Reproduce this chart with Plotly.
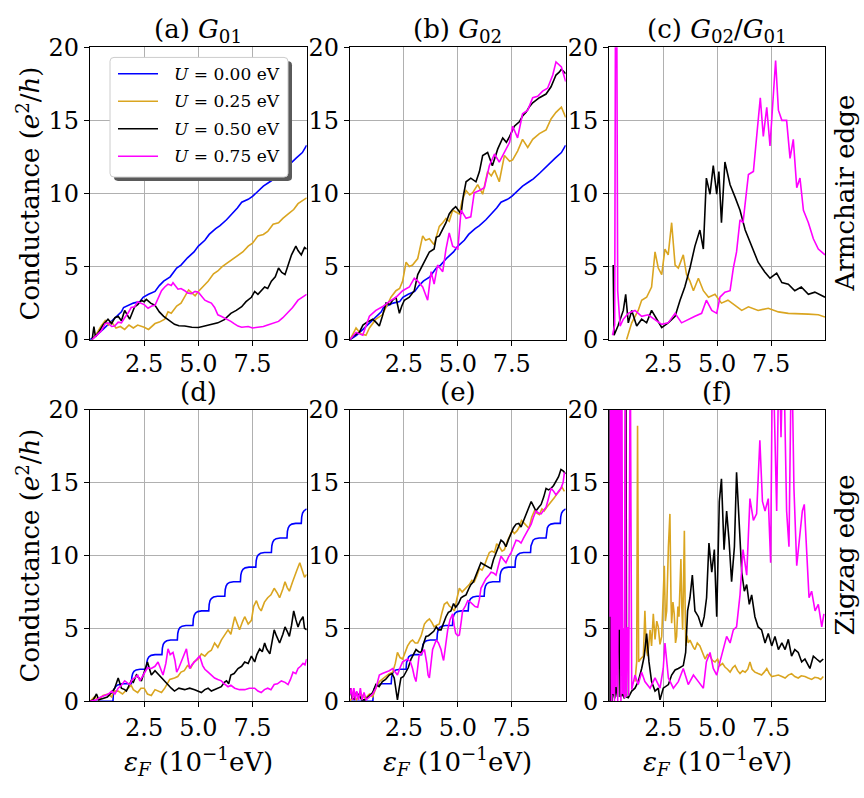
import plotly.graph_objects as go

W, H = 864, 798
FONT = "DejaVu Serif"

# ---------------- data ----------------
legend_labels = ["<i>U</i> = 0.00 eV", "<i>U</i> = 0.25 eV", "<i>U</i> = 0.50 eV", "<i>U</i> = 0.75 eV"]
colors = ["#0000ff", "#daa520", "#000000", "#ff00ff"]
panel_titles = ["(a) <i>G</i><sub>01</sub>", "(b) <i>G</i><sub>02</sub>", "(c) <i>G</i><sub>02</sub>/<i>G</i><sub>01</sub>",
                "(d)", "(e)", "(f)"]
row_labels = ["Armchair edge", "Zigzag edge"]
x_tickvals = [2.5, 5.0, 7.5]
x_ticktext = ["2.5", "5.0", "7.5"]
y_tickvals = [0, 5, 10, 15, 20]

# Armchair, U=0 (G01 = G02)
arm_blue_x = [0.0, 0.3, 0.6, 0.9, 1.2, 1.45, 1.55, 1.8, 2.0, 2.3, 2.45, 2.7, 3.0, 3.2, 3.4, 3.7, 4.0, 4.2, 4.5, 4.8,
              5.0, 5.3, 5.5, 5.8, 6.0, 6.3, 6.5, 6.8, 7.0, 7.3, 7.5, 7.8, 8.0, 8.3, 8.5, 8.8, 9.0, 9.3, 9.5, 9.8, 10.0]
arm_blue_y = [0.0, 0.3, 0.7, 1.1, 1.5, 1.9, 2.2, 2.35, 2.5, 2.6, 2.9, 3.1, 3.3, 3.7, 4.0, 4.3, 4.9, 5.1, 5.6, 6.0,
              6.4, 6.8, 7.2, 7.6, 7.8, 8.2, 8.5, 9.0, 9.4, 9.6, 9.8, 10.2, 10.5, 10.8, 11.0, 11.4, 11.7, 12.1, 12.4, 12.8, 13.3]

a_gold_x = [0.1, 0.3, 0.5, 0.7, 0.85, 1.0, 1.2, 1.4, 1.6, 1.8, 2.0, 2.2, 2.5, 2.7, 3.0, 3.2, 3.45, 3.6, 3.75, 4.0,
            4.2, 4.4, 4.55, 4.7, 4.85, 5.0, 5.2, 5.45, 5.7, 5.9, 6.1, 6.37, 6.6, 6.83, 7.05, 7.3, 7.5, 7.75, 8.0, 8.2,
            8.45, 8.7, 8.9, 9.15, 9.4, 9.6, 9.8, 10.0]
a_gold_y = [0.0, 0.4, 0.9, 1.3, 1.0, 1.2, 0.8, 0.9, 0.7, 1.0, 0.8, 1.0, 0.85, 0.7, 1.1, 1.2, 1.4, 1.9, 1.8, 2.3,
            2.5, 3.0, 3.4, 3.2, 3.0, 3.3, 3.6, 4.0, 4.5, 4.7, 5.0, 5.3, 5.5, 5.8, 6.0, 6.4, 6.6, 7.1, 7.2, 7.4,
            7.9, 8.0, 8.3, 8.6, 8.9, 9.3, 9.5, 9.7]

a_black_x = [0.1, 0.18, 0.25, 0.4, 0.6, 0.83, 1.0, 1.15, 1.3, 1.45, 1.6, 1.83, 2.06, 2.2, 2.37, 2.5, 2.6, 2.8, 3.0, 3.2,
             3.4, 3.6, 3.9, 4.1, 4.37, 4.7, 5.0, 5.2, 5.45, 5.7, 5.9, 6.2, 6.5, 6.75, 7.0, 7.2, 7.45, 7.6, 7.75, 8.06,
             8.2, 8.37, 8.55, 8.7, 8.85, 9.0, 9.15, 9.3, 9.5, 9.6, 9.75, 9.9, 10.0]
a_black_y = [0.0, 0.9, 0.2, 0.5, 1.0, 1.4, 1.1, 1.5, 1.6, 1.3, 2.0, 1.4, 2.25, 2.4, 2.7, 2.6, 2.75, 2.5, 2.35, 1.9,
             1.6, 1.4, 1.05, 0.95, 0.93, 0.85, 0.83, 0.9, 1.0, 1.05, 1.15, 1.37, 1.8, 2.0, 2.25, 2.6, 2.9, 3.3, 3.1, 3.6,
             3.5, 4.0, 4.3, 4.9, 4.6, 4.45, 5.1, 5.8, 6.4, 6.1, 5.8, 6.3, 6.2]

a_mag_x = [0.1, 0.3, 0.52, 0.7, 0.83, 1.0, 1.14, 1.3, 1.45, 1.6, 1.75, 1.9, 2.06, 2.2, 2.37, 2.5, 2.68, 2.85, 3.0, 3.15,
           3.3, 3.45, 3.6, 3.75, 3.83, 4.06, 4.2, 4.37, 4.5, 4.68, 4.85, 5.0, 5.15, 5.3, 5.45, 5.6, 5.75, 5.9, 6.05, 6.2,
           6.35, 6.5, 6.65, 6.83, 7.0, 7.3, 7.5, 7.75, 8.0, 8.2, 8.45, 8.7, 8.9, 9.15, 9.35, 9.6, 9.8, 10.0]
a_mag_y = [0.0, 0.3, 0.6, 1.1, 1.15, 0.9, 0.93, 1.2, 1.15, 1.5, 1.8, 2.2, 2.25, 2.6, 2.5, 2.4, 2.15, 2.3, 2.35, 2.8,
           3.35, 3.6, 3.8, 3.7, 3.9, 3.45, 3.5, 3.35, 3.2, 3.15, 3.3, 3.25, 3.0, 2.7, 2.6, 2.5, 2.2, 1.7, 1.6, 1.5,
           1.35, 1.25, 1.1, 0.93, 0.85, 0.9, 0.8, 0.83, 0.9, 1.0, 1.1, 1.25, 1.5, 1.9, 2.2, 2.7, 2.9, 3.1]

b_gold_x = [0.0, 0.28, 0.5, 0.74, 0.9, 1.2, 1.5, 1.7, 1.9, 2.13, 2.3, 2.44, 2.6, 2.75, 2.9, 3.14, 3.37, 3.5, 3.68, 3.9,
            4.14, 4.3, 4.45, 4.6, 4.76, 5.07, 5.2, 5.38, 5.55, 5.69, 5.92, 6.15, 6.38, 6.55, 6.7, 6.92, 7.16, 7.4, 7.54,
            7.77, 8.0, 8.24, 8.47, 8.78, 9.09, 9.32, 9.55, 9.8, 10.0]
b_gold_y = [0.0, 0.8, 0.4, 0.3, 0.8, 1.4, 1.7, 2.3, 2.9, 3.35, 3.5, 4.0, 5.3, 5.0, 5.1, 5.55, 7.1, 6.8, 6.9, 6.5,
            7.75, 8.0, 8.3, 8.1, 8.85, 8.6, 9.5, 10.2, 9.9, 10.05, 10.6, 9.95, 11.5, 11.2, 11.6, 10.8, 12.6, 12.2, 12.3,
            12.9, 13.7, 13.15, 13.7, 14.1, 14.35, 15.1, 15.55, 15.9, 15.2]

b_black_x = [0.0, 0.2, 0.43, 0.6, 0.74, 1.05, 1.2, 1.36, 1.5, 1.67, 1.85, 1.98, 2.13, 2.29, 2.4, 2.52, 2.75, 2.98, 3.14,
             3.37, 3.5, 3.68, 3.9, 4.0, 4.14, 4.3, 4.45, 4.6, 4.75, 4.9, 5.15, 5.25, 5.38, 5.6, 5.84, 6.0, 6.15, 6.38,
             6.6, 6.85, 7.08, 7.25, 7.4, 7.62, 7.85, 8.0, 8.16, 8.3, 8.47, 8.78, 9.09, 9.32, 9.55, 9.7, 9.8, 10.0]
b_black_y = [0.0, 0.3, 0.5, 1.0, 1.15, 1.4, 1.2, 0.93, 1.6, 2.5, 2.4, 2.7, 2.9, 1.8, 2.3, 2.7, 2.9, 3.35, 4.45,
             5.1, 5.5, 6.0, 6.2, 7.0, 7.1, 7.6, 8.0, 8.6, 8.9, 9.1, 8.6, 9.8, 10.8, 11.05, 10.8, 11.5, 12.6, 12.8,
             11.9, 13.05, 13.8, 13.5, 13.9, 14.6, 14.9, 15.3, 15.55, 15.9, 16.2, 16.55, 16.8, 17.3, 18.1, 18.3, 18.5, 18.2]

b_mag_x = [0.0, 0.28, 0.59, 0.9, 1.2, 1.5, 1.82, 2.13, 2.44, 2.75, 2.98, 3.14, 3.37, 3.6, 3.76, 3.9, 4.06, 4.3, 4.45,
           4.6, 4.76, 5.0, 5.15, 5.38, 5.6, 5.76, 6.0, 6.23, 6.46, 6.7, 6.92, 7.16, 7.4, 7.54, 7.77, 8.0, 8.24, 8.47,
           8.7, 8.93, 9.16, 9.4, 9.55, 9.8, 10.0]
b_mag_y = [0.0, 0.5, 0.3, 1.6, 2.0, 2.25, 2.6, 2.9, 3.35, 3.6, 4.2, 4.0, 3.6, 2.7, 4.65, 3.8, 5.1, 4.65, 6.2,
           7.3, 6.4, 6.2, 8.85, 8.3, 8.4, 10.05, 10.2, 10.4, 11.9, 12.7, 12.15, 12.8, 13.5, 14.6, 13.8, 15.45, 15.7, 16.55,
           16.65, 17.0, 17.2, 18.1, 19.0, 18.65, 17.65]

c_gold_x = [0.8, 1.04, 1.34, 1.5, 1.73, 1.96, 2.12, 2.27, 2.43, 2.58, 2.73, 2.89, 3.05, 3.2, 3.43, 3.58, 3.74, 3.9, 4.13,
            4.36, 4.6, 4.9, 5.2, 5.5, 5.83, 6.14, 6.45, 6.9, 7.37, 7.84, 8.3, 8.76, 9.23, 9.69, 10.0]
c_gold_y = [0.0, 1.15, 2.0, 2.7, 2.9, 3.6, 6.0, 4.9, 4.45, 6.2, 5.8, 8.0, 5.1, 4.9, 5.8, 4.45, 4.0, 3.35, 4.2,
            3.35, 2.9, 3.1, 2.5, 2.7, 2.35, 2.0, 2.25, 2.0, 2.15, 1.9, 1.8, 1.8, 1.75, 1.7, 1.55]

c_black_x = [0.18, 0.22, 0.4, 0.65, 0.76, 0.88, 1.04, 1.27, 1.5, 1.73, 1.96, 2.19, 2.43, 2.73, 3.05, 3.28, 3.5, 3.74,
             3.97, 4.2, 4.36, 4.5, 4.67, 4.82, 4.98, 5.08, 5.2, 5.36, 5.6, 5.83, 6.06, 6.3, 6.6, 6.9, 7.2, 7.45, 7.76,
             8.0, 8.3, 8.6, 8.9, 9.23, 9.53, 10.0]
c_black_y = [5.1, 0.3, 0.93, 2.0, 3.1, 1.15, 2.0, 0.93, 1.4, 1.15, 2.0, 1.4, 0.83, 1.15, 1.6, 2.7, 3.6, 4.9,
             6.4, 7.5, 6.2, 11.05, 9.95, 11.9, 9.95, 11.5, 8.0, 12.15, 10.6, 9.75, 8.85, 7.5, 6.4, 5.3, 4.65, 4.2, 4.55,
             3.9, 3.8, 3.35, 3.6, 3.1, 3.25, 2.9]

c_mag_x = [0.15, 0.25, 0.29, 0.34, 0.39, 0.5, 0.65, 0.88, 1.19, 1.5, 1.8, 2.1, 2.43, 2.73, 3.05, 3.35, 3.66, 3.97, 4.28,
           4.5, 4.75, 4.98, 5.13, 5.36, 5.6, 5.75, 5.9, 6.06, 6.2, 6.45, 6.68, 6.83, 7.0, 7.14, 7.3, 7.45, 7.6, 7.71,
           7.84, 8.0, 8.22, 8.38, 8.53, 8.69, 8.84, 9.0, 9.23, 9.46, 9.69, 10.0]
c_mag_y = [0.3, 1.0, 25.0, 25.0, 3.35, 0.93, 1.4, 1.8, 2.0, 1.6, 1.7, 1.4, 1.05, 1.15, 1.8, 1.15, 1.4, 1.6, 1.8,
           2.7, 2.0, 1.8, 2.9, 3.25, 3.35, 4.9, 6.0, 8.2, 8.0, 11.3, 11.5, 14.1, 16.55, 13.9, 15.9, 13.25, 16.3, 19.1,
           15.7, 15.0, 15.0, 12.4, 13.7, 10.4, 11.05, 8.85, 8.0, 6.9, 6.2, 5.8]

# Zigzag, U=0 (G01 = G02): quantised staircase
zig_blue_x = [0.0, 1.06, 1.08, 1.12, 1.18, 1.28, 1.46,
              1.91, 1.93, 1.97, 2.03, 2.13, 2.31,
              2.6, 2.62, 2.66, 2.72, 2.82, 3.0,
              3.32, 3.34, 3.38, 3.44, 3.54, 3.72,
              4.03, 4.05, 4.09, 4.15, 4.25, 4.43,
              4.75, 4.77, 4.81, 4.87, 4.97, 5.15,
              5.48, 5.5, 5.54, 5.6, 5.7, 5.88,
              6.22, 6.24, 6.28, 6.34, 6.44, 6.62,
              6.94, 6.96, 7.0, 7.06, 7.16, 7.34,
              7.65, 7.67, 7.71, 7.77, 7.87, 8.05,
              8.37, 8.39, 8.43, 8.49, 8.59, 8.77,
              9.09, 9.11, 9.15, 9.21, 9.31, 9.49,
              9.75, 9.77, 9.81, 9.87, 9.97, 10.0]
zig_blue_y = [0.0, 0.0, 0.55, 0.85, 1.0, 1.12, 1.2,
              1.2, 1.65, 1.9, 2.05, 2.15, 2.2,
              2.2, 2.65, 2.9, 3.05, 3.15, 3.2,
              3.2, 3.65, 3.9, 4.05, 4.15, 4.2,
              4.2, 4.65, 4.9, 5.05, 5.15, 5.2,
              5.2, 5.65, 5.9, 6.05, 6.15, 6.2,
              6.2, 6.65, 6.9, 7.05, 7.15, 7.2,
              7.2, 7.65, 7.9, 8.05, 8.15, 8.2,
              8.2, 8.65, 8.9, 9.05, 9.15, 9.2,
              9.2, 9.65, 9.9, 10.05, 10.15, 10.2,
              10.2, 10.65, 10.9, 11.05, 11.15, 11.2,
              11.2, 11.65, 11.9, 12.05, 12.15, 12.2,
              12.2, 12.65, 12.9, 13.05, 13.15, 13.2]

d_gold_x = [0.0, 0.2, 0.4, 0.6, 0.83, 1.0, 1.1, 1.3, 1.5, 1.75, 1.9, 2.0, 2.2, 2.35, 2.5, 2.65, 2.83, 3.0, 3.14, 3.3,
            3.45, 3.68, 3.9, 4.05, 4.2, 4.35, 4.5, 4.65, 4.8, 5.0, 5.14, 5.3, 5.45, 5.6, 5.75, 5.9, 6.06, 6.2, 6.37,
            6.5, 6.68, 6.8, 6.9, 7.05, 7.14, 7.3, 7.45, 7.55, 7.68, 7.8, 7.9, 8.05, 8.2, 8.35, 8.5, 8.65, 8.75, 8.9,
            9.0, 9.1, 9.2, 9.35, 9.45, 9.55, 9.68, 9.8, 9.9, 10.0]
d_gold_y = [0.0, 0.3, 0.1, 0.4, 0.5, 0.3, 0.7, 0.7, 0.5, 0.9, 1.1, 0.8, 0.6, 0.9, 0.9, 0.5, 0.4, 0.8, 0.7, 0.6,
            0.9, 1.5, 1.6, 1.7, 2.0, 2.1, 2.45, 2.3, 2.7, 2.9, 3.25, 3.1, 3.35, 3.5, 4.0, 3.7, 4.2, 4.5, 4.9,
            4.6, 5.8, 5.3, 4.9, 5.5, 5.8, 5.3, 5.55, 6.5, 6.9, 6.4, 6.2, 6.8, 7.1, 7.3, 7.75, 7.4, 7.1, 7.7,
            8.2, 7.8, 7.55, 8.2, 8.65, 9.0, 9.5, 9.0, 8.5, 8.7]

d_black_x = [0.0, 0.15, 0.3, 0.4, 0.6, 0.8, 1.0, 1.14, 1.3, 1.45, 1.6, 1.68, 1.9, 2.0, 2.14, 2.25, 2.37, 2.5, 2.65, 2.75,
             2.83, 3.0, 3.06, 3.2, 3.3, 3.45, 3.6, 3.75, 3.9, 4.1, 4.37, 4.6, 4.83, 5.0, 5.14, 5.3, 5.45, 5.6, 5.75, 5.9,
             6.06, 6.2, 6.3, 6.4, 6.5, 6.65, 6.83, 7.0, 7.14, 7.3, 7.45, 7.6, 7.7, 7.83, 7.95, 8.06, 8.15, 8.3, 8.4,
             8.5, 8.6, 8.75, 8.9, 9.0, 9.1, 9.2, 9.3, 9.4, 9.5, 9.6, 9.7, 9.83, 9.9, 10.0]
d_black_y = [0.0, 0.1, 0.5, 0.1, 0.2, 0.3, 0.6, 0.9, 1.6, 0.9, 0.8, 0.7, 1.4, 1.3, 1.8, 1.6, 1.4, 2.0, 2.7, 2.2,
             1.8, 2.1, 2.0, 1.8, 1.6, 1.4, 1.15, 0.9, 0.7, 0.9, 0.8, 0.9, 0.8, 0.7, 0.6, 0.8, 0.9, 0.7, 0.8, 0.9,
             1.0, 1.3, 1.4, 1.2, 1.8, 1.9, 2.25, 2.4, 2.7, 2.6, 3.1, 2.7, 3.2, 3.6, 3.4, 4.0, 3.6, 3.25, 4.0,
             4.9, 4.5, 4.0, 4.6, 5.1, 4.8, 4.45, 5.2, 6.2, 5.6, 5.1, 5.5, 5.8, 5.0, 4.9]

d_mag_x = [0.0, 0.3, 0.5, 0.68, 0.85, 1.0, 1.15, 1.3, 1.45, 1.6, 1.75, 1.83, 1.95, 2.06, 2.2, 2.3, 2.42, 2.52, 2.65, 2.83,
           3.0, 3.14, 3.25, 3.37, 3.5, 3.6, 3.7, 3.83, 3.92, 4.0, 4.1, 4.2, 4.3, 4.45, 4.52, 4.6, 4.7, 4.83, 4.95, 5.06,
           5.2, 5.3, 5.45, 5.6, 5.75, 5.9, 6.06, 6.2, 6.37, 6.5, 6.68, 6.9, 7.14, 7.35, 7.6, 7.75, 7.9, 8.05, 8.2,
           8.35, 8.5, 8.65, 8.83, 9.0, 9.14, 9.25, 9.37, 9.5, 9.6, 9.72, 9.83, 9.92, 10.0]
d_mag_y = [0.0, 0.1, 0.3, 0.4, 0.5, 0.7, 0.5, 0.9, 1.1, 1.4, 1.2, 1.15, 1.5, 1.6, 1.8, 1.4, 1.7, 2.0, 2.3, 2.25,
           2.4, 2.7, 2.3, 1.8, 2.6, 3.6, 3.2, 3.35, 2.8, 2.0, 2.3, 2.7, 3.1, 3.6, 2.9, 2.25, 2.5, 2.7, 2.9, 3.1,
           2.45, 2.2, 2.0, 1.8, 1.6, 1.5, 1.4, 1.2, 1.0, 1.1, 0.9, 0.8, 0.8, 0.9, 0.9, 0.7, 0.6, 0.8, 0.9,
           0.8, 1.15, 1.2, 1.4, 1.3, 1.15, 1.5, 2.0, 1.9, 2.25, 2.4, 2.6, 2.5, 2.9]

e_gold_x = [0.0, 0.15, 0.3, 0.5, 0.7, 0.9, 1.05, 1.2, 1.36, 1.5, 1.67, 1.82, 1.98, 2.1, 2.2, 2.32, 2.44, 2.55, 2.67, 2.8,
            2.9, 3.02, 3.14, 3.3, 3.45, 3.56, 3.68, 3.8, 3.9, 4.0, 4.14, 4.25, 4.37, 4.5, 4.6, 4.72, 4.84, 4.95, 5.07,
            5.2, 5.3, 5.42, 5.53, 5.65, 5.76, 5.88, 6.0, 6.12, 6.23, 6.35, 6.46, 6.58, 6.7, 6.8, 6.92, 7.05, 7.16, 7.3,
            7.4, 7.52, 7.62, 7.75, 7.85, 7.95, 8.08, 8.2, 8.3, 8.42, 8.55, 8.66, 8.78, 8.9, 9.0, 9.12, 9.24, 9.35,
            9.47, 9.58, 9.7, 9.82, 9.94]
e_gold_y = [0.0, 0.4, 0.1, 0.5, 0.2, 0.5, 0.3, 0.9, 1.35, 1.5, 1.7, 1.9, 2.0, 2.6, 3.35, 3.0, 2.9, 3.3, 3.8, 4.1,
            4.2, 4.0, 4.0, 4.5, 5.3, 5.5, 5.65, 5.4, 5.1, 5.2, 5.3, 6.0, 6.65, 6.8, 6.55, 6.4, 6.2, 7.0, 7.75,
            7.5, 7.65, 7.8, 8.0, 8.3, 8.2, 8.6, 9.1, 9.0, 9.3, 9.8, 10.2, 10.3, 10.2, 10.8, 10.6, 10.3, 10.4, 11.0,
            11.3, 11.7, 11.5, 11.7, 11.95, 12.4, 12.2, 12.0, 11.85, 12.6, 13.05, 12.9, 12.8, 13.2, 13.05, 13.3, 13.5,
            13.7, 13.95, 14.2, 14.4, 14.7, 14.4]

e_black_x = [0.0, 0.1, 0.2, 0.3, 0.43, 0.55, 0.7, 0.85, 1.05, 1.2, 1.35, 1.5, 1.65, 1.82, 1.95, 2.05, 2.13, 2.2, 2.28,
             2.36, 2.48, 2.6, 2.7, 2.83, 2.95, 3.06, 3.18, 3.3, 3.42, 3.52, 3.64, 3.76, 3.88, 4.0, 4.1, 4.22, 4.33,
             4.45, 4.56, 4.68, 4.8, 4.9, 5.03, 5.15, 5.26, 5.38, 5.5, 5.6, 5.72, 5.84, 5.95, 6.07, 6.18, 6.3, 6.42,
             6.54, 6.65, 6.77, 6.88, 7.0, 7.12, 7.23, 7.35, 7.47, 7.58, 7.7, 7.82, 7.93, 8.05, 8.16, 8.28, 8.4, 8.5,
             8.62, 8.75, 8.86, 8.98, 9.09, 9.2, 9.32, 9.44, 9.55, 9.67, 9.78, 9.88, 10.0]
e_black_y = [0.9, 0.2, 0.15, 0.6, 0.4, 0.1, 0.1, 0.3, 0.6, 1.15, 1.0, 1.35, 1.5, 1.8, 1.9, 1.6, 0.8, 0.1, 0.9,
             1.6, 1.7, 2.0, 2.3, 2.9, 3.2, 3.55, 3.4, 3.35, 4.0, 4.45, 4.5, 4.65, 4.8, 5.1, 4.9, 4.9, 5.4,
             5.8, 6.1, 6.2, 6.7, 6.45, 6.7, 7.1, 7.2, 7.3, 7.7, 8.0, 8.2, 8.65, 9.0, 9.5, 9.4, 9.3, 9.2,
             9.1, 9.7, 10.2, 10.7, 11.05, 10.9, 10.6, 11.1, 11.5, 11.9, 12.15, 12.2, 11.95, 12.4, 12.85, 13.3, 13.7, 13.4,
             13.05, 13.3, 13.5, 14.0, 14.6, 14.5, 14.6, 14.8, 15.05, 15.4, 15.9, 15.8, 15.6]

e_mag_x = [0.0, 0.06, 0.12, 0.18, 0.25, 0.31, 0.4, 0.48, 0.56, 0.65, 0.75, 0.9, 1.05, 1.2, 1.36, 1.5, 1.67, 1.82, 1.98,
           2.1, 2.2, 2.32, 2.44, 2.55, 2.67, 2.8, 2.9, 2.98, 3.06, 3.13, 3.2, 3.33, 3.45, 3.56, 3.62, 3.68, 3.76, 3.83,
           3.92, 4.0, 4.1, 4.22, 4.3, 4.34, 4.43, 4.53, 4.64, 4.76, 4.83, 4.9, 5.0, 5.07, 5.15, 5.22, 5.34, 5.46,
           5.58, 5.7, 5.8, 5.92, 6.0, 6.07, 6.18, 6.3, 6.42, 6.54, 6.65, 6.77, 6.88, 7.0, 7.12, 7.23, 7.35, 7.47,
           7.58, 7.7, 7.82, 7.93, 8.05, 8.16, 8.28, 8.4, 8.5, 8.62, 8.75, 8.86, 8.98, 9.09, 9.2, 9.32, 9.44, 9.55,
           9.67, 9.78, 9.88, 9.94]
e_mag_y = [0.5, 0.9, 0.1, 0.9, 0.1, 0.7, 0.1, 0.9, 0.1, 0.6, 0.1, 0.3, 0.5, 0.9, 1.8, 1.9, 2.0, 2.1, 2.25,
           2.0, 1.8, 2.3, 2.7, 2.8, 2.9, 2.7, 2.25, 1.7, 1.35, 2.2, 3.1, 3.3, 3.55, 2.6, 1.8, 1.6, 2.6, 3.55,
           3.9, 4.2, 4.0, 3.55, 3.0, 2.8, 3.8, 4.9, 5.6, 6.0, 5.2, 4.65, 4.5, 4.55, 5.4, 6.2, 6.5, 6.9,
           6.8, 6.65, 6.5, 6.45, 7.0, 7.75, 8.1, 8.4, 8.6, 8.85, 8.8, 8.65, 9.3, 9.95, 9.7, 9.5, 9.9, 10.2,
           10.6, 11.05, 11.0, 10.85, 11.2, 11.5, 11.8, 12.15, 12.6, 13.05, 12.9, 12.85, 13.1, 13.3, 13.9, 14.6, 14.4, 14.15,
           14.4, 14.6, 15.0, 15.7]

f_gold_x = [1.19, 1.27, 1.31, 1.36, 1.45, 1.58, 1.65, 1.72, 1.78, 1.89, 1.96, 2.04, 2.12, 2.2, 2.27, 2.35, 2.43, 2.55,
            2.6, 2.66, 2.74, 2.81, 2.86, 2.89, 2.95, 3.01, 3.07, 3.12, 3.18, 3.23, 3.28, 3.32, 3.36, 3.4, 3.44, 3.48,
            3.52, 3.55, 3.6, 3.66, 3.74, 3.82, 3.9, 3.97, 4.08, 4.2, 4.32, 4.44, 4.55, 4.67, 4.78, 4.9, 5.02, 5.13,
            5.25, 5.36, 5.48, 5.6, 5.72, 5.83, 5.95, 6.06, 6.18, 6.3, 6.42, 6.52, 6.62, 6.75, 6.9, 7.06, 7.18, 7.3,
            7.42, 7.53, 7.7, 7.84, 8.0, 8.15, 8.3, 8.45, 8.6, 8.76, 8.9, 9.07, 9.22, 9.38, 9.53, 9.69, 9.8, 9.92]
f_gold_y = [1.35, 2.7, 18.9, 2.7, 2.9, 3.1, 6.2, 3.5, 3.1, 4.9, 3.8, 6.0, 4.25, 5.5, 5.1, 3.9, 4.45, 9.3,
            5.5, 6.2, 10.6, 12.85, 7.0, 5.35, 6.8, 6.0, 4.0, 4.45, 6.5, 5.8, 8.0, 9.75, 6.5, 4.9, 8.0, 11.7,
            6.0, 3.8, 4.5, 4.0, 4.2, 3.9, 3.7, 3.55, 4.0, 3.8, 3.4, 2.9, 3.2, 3.1, 2.8, 2.7, 2.9, 2.45,
            2.6, 2.35, 2.2, 2.0, 2.3, 2.45, 2.1, 1.9, 2.1, 2.0, 2.2, 2.7, 2.2, 2.0, 1.9, 1.8, 2.0, 2.25,
            1.9, 1.7, 1.75, 1.8, 1.7, 1.6, 1.8, 1.9, 1.7, 1.6, 1.75, 1.7, 1.6, 1.5, 1.65, 1.6, 1.5, 1.7]

f_black_x = [0.0, 0.03, 0.06, 0.09, 0.12, 0.15, 0.19, 0.25, 0.3, 0.38, 0.45, 0.5, 0.6, 0.7, 0.77, 0.8, 0.88, 1.04,
             1.19, 1.34, 1.5, 1.62, 1.73, 1.84, 1.96, 2.12, 2.27, 2.35, 2.5, 2.74, 2.89, 3.05, 3.2, 3.43, 3.54, 3.63,
             3.74, 3.85, 3.97, 4.13, 4.28, 4.4, 4.51, 4.62, 4.75, 4.87, 4.98, 5.1, 5.2, 5.32, 5.44, 5.55, 5.67, 5.8,
             5.9, 6.01, 6.14, 6.26, 6.37, 6.49, 6.6, 6.75, 6.9, 7.06, 7.22, 7.37, 7.53, 7.68, 7.84, 8.0, 8.15, 8.3,
             8.45, 8.6, 8.76, 8.92, 9.07, 9.3, 9.46, 9.61, 9.77, 9.92]
f_black_y = [0.0, 25.0, 0.0, 25.0, 0.0, 25.0, 0.5, 0.2, 1.0, 0.3, 8.5, 0.3, 0.5, 0.2, 25.0, 0.3, 0.25, 0.7,
             0.9, 1.35, 2.25, 3.1, 4.65, 2.7, 1.35, 0.7, 0.9, 0.1, 0.9, 1.15, 1.8, 2.15, 2.25, 2.45, 3.35, 6.2,
             7.1, 8.65, 6.2, 5.8, 5.1, 5.8, 7.1, 10.85, 8.85, 10.4, 5.8, 13.7, 15.25, 10.4, 13.05, 11.05, 8.2, 10.6,
             15.7, 12.85, 8.85, 7.55, 8.0, 6.65, 7.3, 5.8, 5.1, 4.9, 4.0, 4.65, 3.8, 4.45, 3.55, 4.0, 3.55, 4.25,
             3.1, 3.55, 3.35, 2.7, 2.9, 2.25, 3.1, 2.9, 2.7, 2.9]

f_mag_x = [0.03, 0.06, 0.1, 0.13, 0.17, 0.2, 0.24, 0.27, 0.31, 0.35, 0.39, 0.43, 0.46, 0.5, 0.54, 0.58, 0.62, 0.66, 0.7,
           0.74, 0.78, 0.85, 0.9, 0.97, 1.04, 1.1, 1.19, 1.34, 1.5, 1.65, 1.89, 2.12, 2.35, 2.5, 2.58, 2.74, 2.97, 3.2,
           3.43, 3.66, 3.9, 4.13, 4.36, 4.5, 4.67, 4.82, 4.98, 5.13, 5.29, 5.44, 5.6, 5.75, 5.9, 6.06, 6.2, 6.37,
           6.52, 6.68, 6.83, 6.98, 7.1, 7.22, 7.37, 7.48, 7.57, 7.68, 7.76, 7.87, 7.96, 8.07, 8.22, 8.33, 8.45, 8.56,
           8.69, 8.84, 8.95, 9.04, 9.15, 9.26, 9.38, 9.54, 9.69, 9.85, 9.95]
f_mag_y = [5.8, 25.0, 0.0, 25.0, 0.5, 25.0, 0.0, 25.0, 1.0, 25.0, 0.0, 25.0, 4.9, 25.0, 0.0, 25.0, 0.5, 5.0, 0.2,
           25.0, 0.3, 5.1, 0.4, 25.0, 0.8, 1.2, 1.8, 1.15, 2.0, 1.35, 0.9, 1.6, 0.9, 2.25, 4.0, 1.6, 0.9, 1.35,
           2.25, 1.15, 1.8, 1.35, 0.9, 2.7, 3.35, 2.25, 1.8, 2.7, 3.55, 4.45, 4.0, 4.9, 5.1, 7.3, 10.4, 8.65,
           13.9, 12.4, 12.85, 17.9, 13.7, 13.05, 13.9, 9.5, 25.0, 18.6, 13.05, 25.0, 18.1, 25.0, 13.05, 10.6, 25.0, 14.6,
           9.3, 11.5, 13.05, 13.5, 10.2, 7.1, 7.55, 6.2, 6.65, 5.1, 6.0]

panels = [
    [(arm_blue_x, arm_blue_y), (a_gold_x, a_gold_y), (a_black_x, a_black_y), (a_mag_x, a_mag_y)],
    [(arm_blue_x, arm_blue_y), (b_gold_x, b_gold_y), (b_black_x, b_black_y), (b_mag_x, b_mag_y)],
    [None, (c_gold_x, c_gold_y), (c_black_x, c_black_y), (c_mag_x, c_mag_y)],
    [(zig_blue_x, zig_blue_y), (d_gold_x, d_gold_y), (d_black_x, d_black_y), (d_mag_x, d_mag_y)],
    [(zig_blue_x, zig_blue_y), (e_gold_x, e_gold_y), (e_black_x, e_black_y), (e_mag_x, e_mag_y)],
    [None, (f_gold_x, f_gold_y), (f_black_x, f_black_y), (f_mag_x, f_mag_y)],
]

# ---------------- layout geometry (pixels) ----------------
col_px = [(90, 306.7), (350, 565.7), (609.3, 825)]
row_px = [(34.5, 337.5), (410, 712.3)]
title_cy = [17, 392]


def px2x(p):
    return p / W


def px2y(p):
    return 1 - p / H


def tf(size):
    return dict(family=FONT, size=size, color="black")


fig = go.Figure()
layout = dict(width=W, height=H, margin=dict(l=0, r=0, t=0, b=0),
              paper_bgcolor="white", plot_bgcolor="white", font=tf(25), showlegend=False)

annotations = []
shapes = []
for i in range(6):
    r, c = divmod(i, 3)
    n = "" if i == 0 else str(i + 1)
    common = dict(showgrid=True, gridcolor="#b0b0b0", gridwidth=1, zeroline=False,
                  showline=True, linecolor="black", linewidth=1.3, mirror=True,
                  ticks="outside", ticklen=5, tickcolor="black", tickwidth=1, tickfont=tf(24))
    layout["xaxis" + n] = dict(domain=[px2x(col_px[c][0]), px2x(col_px[c][1])], anchor="y" + n,
                               range=[0, 10], tickvals=x_tickvals, ticktext=x_ticktext,
                               ticklabelstandoff=(-3 if r == 0 else 0), **common)
    layout["yaxis" + n] = dict(domain=[px2y(row_px[r][1]), px2y(row_px[r][0])], anchor="x" + n,
                               range=[0, 20], tickvals=y_tickvals, **common)
    for k, series in enumerate(panels[i]):
        if series is None:
            continue
        sx, sy = series
        fig.add_trace(go.Scatter(x=sx, y=sy, mode="lines", xaxis="x" + n, yaxis="y" + n,
                                 line=dict(color=colors[k], width=1.6), name=legend_labels[k]))
    annotations.append(dict(text=panel_titles[i], x=(col_px[c][0] + col_px[c][1]) / 2 / W,
                            y=px2y(title_cy[r]), xref="paper", yref="paper",
                            xanchor="center", yanchor="middle", showarrow=False, font=tf(26)))

ylabel = "Conductance (<i>e</i><sup>2</sup>/<i>h</i>)"
for r in range(2):
    annotations.append(dict(text=ylabel, x=px2x(29), y=px2y((row_px[r][0] + row_px[r][1]) / 2),
                            xref="paper", yref="paper", xanchor="center", yanchor="middle",
                            textangle=-90, showarrow=False, font=tf(26)))
for c in range(3):
    annotations.append(dict(text="<i>ε</i><sub><i>F</i></sub> (10<sup>−1</sup>eV)",
                            x=(col_px[c][0] + col_px[c][1]) / 2 / W, y=px2y(775),
                            xref="paper", yref="paper", xanchor="center", yanchor="middle",
                            showarrow=False, font=tf(26)))
for r, lab in enumerate(row_labels):
    annotations.append(dict(text=lab, x=px2x(845), y=px2y((row_px[r][0] + row_px[r][1]) / 2),
                            xref="paper", yref="paper", xanchor="center", yanchor="middle",
                            textangle=-90, showarrow=False, font=tf(26)))


# ---------------- legend box (drawn in panel a) ----------------
def rounded_rect(x0, y0, x1, y1, rad):
    rx, ry = rad / W, rad / H
    X0, X1 = px2x(x0), px2x(x1)
    Y0, Y1 = px2y(y0), px2y(y1)  # Y0 top, Y1 bottom
    return (f"M {X0 + rx},{Y0} L {X1 - rx},{Y0} Q {X1},{Y0} {X1},{Y0 - ry} "
            f"L {X1},{Y1 + ry} Q {X1},{Y1} {X1 - rx},{Y1} L {X0 + rx},{Y1} "
            f"Q {X0},{Y1} {X0},{Y1 + ry} L {X0},{Y0 - ry} Q {X0},{Y0} {X0 + rx},{Y0} Z")


leg_box = (110, 45, 288, 169)
shapes.append(dict(type="path", xref="paper", yref="paper", layer="above",
                   path=rounded_rect(leg_box[0] + 4, leg_box[1] + 4, leg_box[2] + 4, leg_box[3] + 4, 4),
                   fillcolor="#5a5a5a", line=dict(width=0)))
shapes.append(dict(type="path", xref="paper", yref="paper", layer="above",
                   path=rounded_rect(*leg_box, 4),
                   fillcolor="white", line=dict(color="#cccccc", width=1)))
entry_y = [62, 90.5, 119, 147.5]
for k in range(4):
    shapes.append(dict(type="line", xref="paper", yref="paper", layer="above",
                       x0=px2x(118), x1=px2x(158), y0=px2y(entry_y[k]), y1=px2y(entry_y[k]),
                       line=dict(color=colors[k], width=1.6)))
    annotations.append(dict(text=legend_labels[k], x=px2x(172), y=px2y(entry_y[k]),
                            xref="paper", yref="paper", xanchor="left", yanchor="middle",
                            showarrow=False, font=tf(17)))

layout["annotations"] = annotations
layout["shapes"] = shapes
fig.update_layout(**layout)
fig.write_html("out.html")
